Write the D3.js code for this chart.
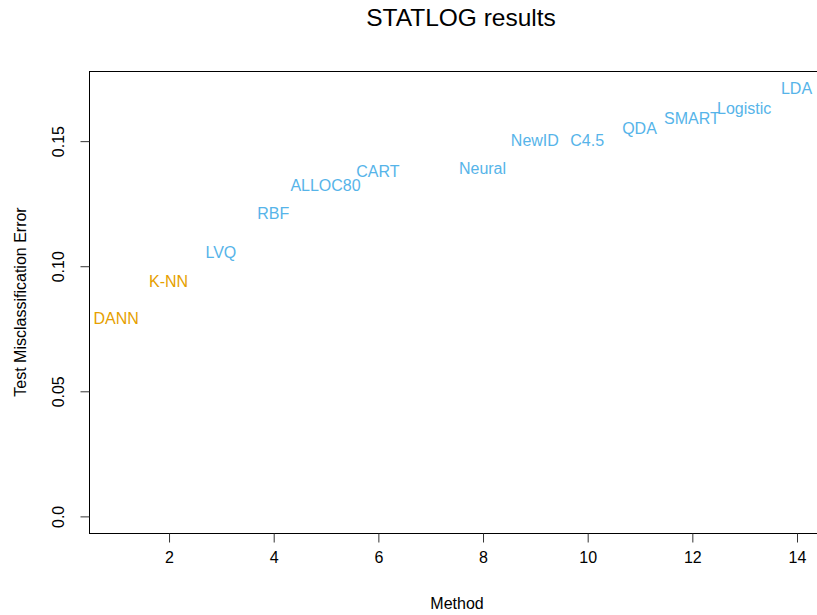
<!DOCTYPE html>
<html>
<head>
<meta charset="utf-8">
<script src="https://cdn.jsdelivr.net/npm/d3@7"></script>
<style>
  html, body { margin: 0; padding: 0; background: #fff; }
  svg text { font-family: "Liberation Sans", Arial, Helvetica, sans-serif; }
</style>
</head>
<body>
<svg id="chart" width="817" height="615"></svg>
<script>
// Data
const methods = ["DANN", "K-NN", "LVQ", "RBF", "ALLOC80", "CART", "Neural", "NewID", "C4.5", "QDA", "SMART", "Logistic", "LDA"];
const positions = [1, 2, 3, 4, 5, 6, 8, 9, 10, 11, 12, 13, 14];
const errors = [0.079, 0.0936, 0.1052, 0.121, 0.1322, 0.1379, 0.139, 0.150, 0.150, 0.155, 0.159, 0.1627, 0.171];
const groups = ["new", "new", "statlog", "statlog", "statlog", "statlog", "statlog", "statlog", "statlog", "statlog", "statlog", "statlog", "statlog"];
const xTicks = [2, 4, 6, 8, 10, 12, 14];
const yTicks = [0, 0.05, 0.10, 0.15];
const yTickLabels = ["0.0", "0.05", "0.10", "0.15"];
const colors = { new: "#E69F00", statlog: "#56B4E9" };

const svg = d3.select("#chart");
const mLeft = 89, mTop = 71, mBottom = 533;
const xMin = 1, xMax = 14, yMin = 0, yMax = 0.171;
const xPad = (xMax - xMin) * 0.04, yPad = (yMax - yMin) * 0.04;
const pxPerUnit = 52.33;
const mRight = mLeft + (xMax - xMin + 2 * xPad) * pxPerUnit;

const x = d3.scaleLinear().domain([xMin - xPad, xMax + xPad]).range([mLeft, mRight]);
const y = d3.scaleLinear().domain([yMin - yPad, yMax + yPad]).range([mBottom, mTop]);

// Box
svg.append("rect")
  .attr("x", mLeft + 0.5).attr("y", mTop + 0.5)
  .attr("width", mRight - mLeft).attr("height", mBottom - mTop)
  .attr("fill", "none").attr("stroke", "#000").attr("stroke-width", 1);

// X axis
const xAxis = d3.axisBottom(x).tickValues(xTicks).tickSize(9).tickPadding(9).tickFormat(d3.format("d"));
const gx = svg.append("g").attr("transform", `translate(0.5,${mBottom + 0.5})`).call(xAxis);
gx.select(".domain").remove();
gx.selectAll("line").attr("stroke", "#333");
gx.selectAll("text").attr("font-size", 16).attr("fill", "#000")
  .attr("font-family", "Liberation Sans, Arial, sans-serif");

// Y axis
const yAxis = d3.axisLeft(y).tickValues(yTicks).tickSize(9).tickFormat((d, i) => yTickLabels[i]);
const gy = svg.append("g").attr("transform", `translate(${mLeft + 0.5},0.5)`).call(yAxis);
gy.select(".domain").remove();
gy.selectAll("line").attr("stroke", "#333");
gy.selectAll("text")
  .attr("font-size", 16).attr("fill", "#000")
  .attr("font-family", "Liberation Sans, Arial, sans-serif")
  .attr("text-anchor", "middle")
  .attr("x", 0)
  .attr("transform", `translate(${58 - mLeft},0) rotate(-90)`)
  .attr("dy", "0.35em");

// Labels
svg.append("g").selectAll("text")
  .data(methods)
  .join("text")
  .attr("x", (d, i) => x(positions[i]))
  .attr("y", (d, i) => y(errors[i]))
  .attr("dy", "0.35em")
  .attr("text-anchor", "middle")
  .attr("font-size", 16)
  .attr("fill", (d, i) => colors[groups[i]])
  .text(d => d);

// Titles
svg.append("text").attr("x", 461).attr("y", 17).attr("dy", "0.35em")
  .attr("text-anchor", "middle").attr("font-size", 24.5).attr("fill", "#000")
  .text("STATLOG results");
svg.append("text").attr("x", 457).attr("y", 603).attr("dy", "0.35em")
  .attr("text-anchor", "middle").attr("font-size", 16).attr("fill", "#000")
  .text("Method");
svg.append("text")
  .attr("transform", `translate(20,${(mTop + mBottom) / 2}) rotate(-90)`)
  .attr("dy", "0.35em")
  .attr("text-anchor", "middle").attr("font-size", 16).attr("fill", "#000")
  .text("Test Misclassification Error");
</script>
</body>
</html>
